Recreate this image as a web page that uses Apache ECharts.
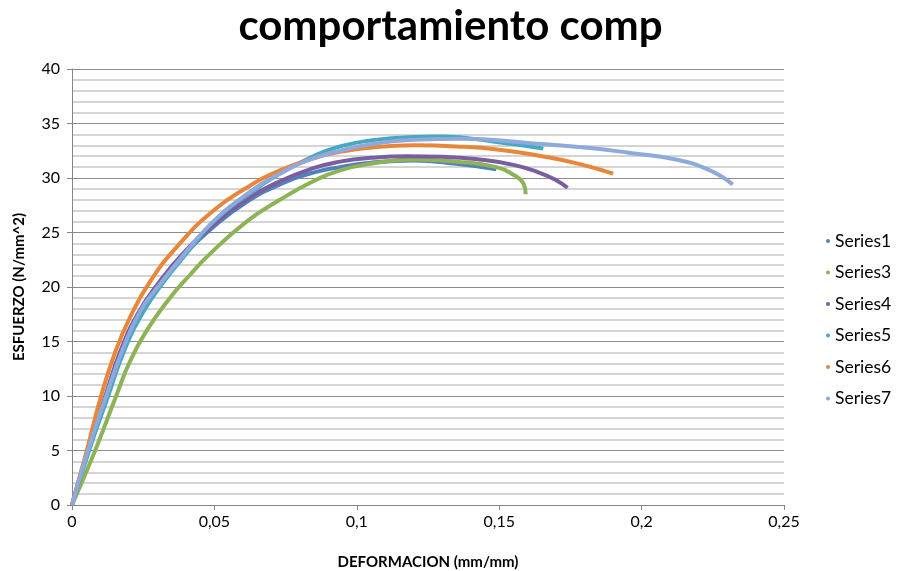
<!DOCTYPE html>
<html><head><meta charset="utf-8">
<script src="https://cdn.jsdelivr.net/npm/echarts@6/dist/echarts.min.js"></script>
<style>html,body{margin:0;padding:0;background:#fff}#c{width:901px;height:571px}</style>
</head><body><div id="c"></div>
<script>
const seriesNames = ["Series1","Series3","Series4","Series5","Series6","Series7"];
const xTicks = [0, 0.05, 0.1, 0.15, 0.2, 0.25];
const yTicks = [0, 5, 10, 15, 20, 25, 30, 35, 40];

const s1x = [0,0.0056,0.012,0.0175,0.0237,0.0307,0.0395,0.0496,0.0613,0.073,0.0847,0.0941,0.105,0.12,0.135,0.149];
const s1y = [0,5,10,14.2,17.7,20.3,23,25.5,27.8,29.4,30.5,31.0,31.4,31.6,31.3,30.8];

const s3x = [0,0.0082,0.0155,0.0204,0.0262,0.0344,0.0414,0.0479,0.0613,0.073,0.0847,0.0941,0.105,0.12,0.135,0.149,0.155,0.1585,0.1593];
const s3y = [0,5.05,10,13.2,16,19,21.1,22.9,26,28,29.7,30.7,31.3,31.7,31.5,31,30.3,29.5,28.5];

const s4x = [0,0.0055,0.0117,0.0171,0.0232,0.0302,0.0391,0.0496,0.0613,0.073,0.0847,0.0941,0.105,0.1175,0.13,0.143,0.155,0.164,0.17,0.174];
const s4y = [0,5,10,14.2,17.6,20.3,23.1,25.7,28,29.7,30.9,31.5,31.85,32,31.95,31.7,31.2,30.5,29.8,29.1];

const s5x = [0,0.006,0.0127,0.0184,0.025,0.032,0.0409,0.0496,0.0613,0.073,0.0847,0.0941,0.105,0.118,0.13,0.149,0.1655];
const s5y = [0,5,10,14.2,17.7,20.4,23.3,26,28.4,30.4,32,32.9,33.45,33.75,33.8,33.3,32.7];

const s6x = [0,0.0052,0.0101,0.015,0.02,0.0274,0.0379,0.0496,0.0613,0.073,0.0847,0.0941,0.107,0.12,0.135,0.15,0.165,0.178,0.19];
const s6y = [0,5,9.9,13.9,17,20.5,24,27,29.1,30.7,31.8,32.4,32.85,33,32.9,32.6,32,31.3,30.4];

const s7x = [0,0.0056,0.012,0.0177,0.024,0.031,0.04,0.0496,0.0613,0.073,0.0847,0.0941,0.105,0.12,0.137,0.161,0.18,0.196,0.212,0.224,0.232];
const s7y = [0,5,10,14.2,17.8,20.3,23.2,26,28.5,30.4,31.8,32.5,33.1,33.5,33.6,33.2,32.8,32.3,31.7,30.7,29.4];

const xs = [s1x,s3x,s4x,s5x,s6x,s7x];
const ys = [s1y,s3y,s4y,s5y,s6y,s7y];
const colors = ["#4F81BD","#8DB356","#7B5EA0","#46A8C2","#E8863A","#8EA9DB"];

const chart = echarts.init(document.getElementById('c'));
const font = "Lato, 'Open Sans', sans-serif";
chart.setOption({
  animation:false,
  title:{text:"comportamiento comp",left:'center',top:0,
    textStyle:{fontFamily:font,fontWeight:'bold',fontSize:42,color:'#000'}},
  legend:{orient:'vertical',left:821,top:227,itemWidth:4,itemHeight:4,itemGap:13.5,
    icon:'circle',data:seriesNames,
    textStyle:{fontFamily:font,fontSize:17.5,color:'#000',lineHeight:18}},
  grid:{left:72,right:117,top:69,bottom:66,containLabel:false,outerBoundsMode:'none'},
  xAxis:{type:'value',min:xTicks[0],max:xTicks[xTicks.length-1],interval:0.05,
    name:"DEFORMACION (mm/mm)",nameLocation:'middle',nameGap:50,
    nameTextStyle:{fontFamily:font,fontWeight:'bold',fontSize:15,color:'#000'},
    axisLine:{show:true,lineStyle:{color:'#868686',width:1}},
    axisTick:{show:true,length:5,lineStyle:{color:'#868686'}},
    axisLabel:{fontFamily:font,fontSize:16,color:'#000',margin:9,
      formatter:v=>String(+v.toFixed(2)).replace('.',',')},
    splitLine:{show:false}},
  yAxis:{type:'value',min:yTicks[0],max:yTicks[yTicks.length-1],interval:5,
    name:"ESFUERZO (N/mm^2)",nameLocation:'middle',nameGap:45,
    nameTextStyle:{fontFamily:font,fontWeight:'bold',fontSize:15,color:'#000'},
    axisLine:{show:true,lineStyle:{color:'#868686',width:1}},
    axisTick:{show:true,length:5,lineStyle:{color:'#868686'}},
    axisLabel:{fontFamily:font,fontSize:16,color:'#000',margin:12},
    splitLine:{show:true,lineStyle:{color:'#8C8C8C',width:1}},
    minorTick:{show:false,splitNumber:5},
    minorSplitLine:{show:true,lineStyle:{color:'#D4D4D4',width:2}}},
  series:seriesNames.map((n,i)=>({
    name:n,type:'line',smooth:0.5,showSymbol:false,symbol:'circle',
    color:colors[i],lineStyle:{width:4,color:colors[i]},
    data:xs[i].map((x,j)=>[x,ys[i][j]])
  }))
});
</script></body></html>
